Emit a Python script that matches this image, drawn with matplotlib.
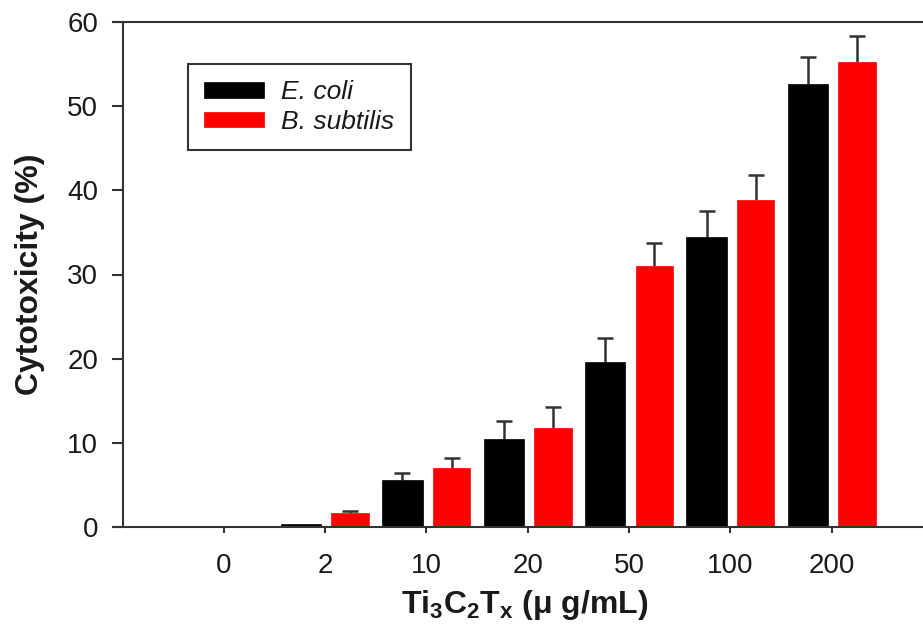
import matplotlib
matplotlib.use("Agg")
import matplotlib.pyplot as plt
import numpy as np

# concentrations (ug/mL) and cytotoxicity (%)
conc = ['0', '2', '10', '20', '50', '100', '200']
ecoli = [0.0, 0.3, 5.6, 10.5, 19.6, 34.4, 52.6]
ecoli_err = [0.0, 0.0, 0.85, 2.1, 2.9, 3.1, 3.3]
bsub = [0.0, 1.7, 7.0, 11.8, 31.0, 38.8, 55.2]
bsub_err = [0.0, 0.2, 1.2, 2.5, 2.8, 3.0, 3.1]

plt.rcParams['font.family'] = ['Liberation Sans', 'DejaVu Sans']
plt.rcParams['mathtext.fontset'] = 'custom'
plt.rcParams['mathtext.rm'] = 'Liberation Sans:bold'
plt.rcParams['mathtext.it'] = 'Liberation Sans:bold'
plt.rcParams['mathtext.bf'] = 'Liberation Sans:bold'

axcol = '#333333'
txtcol = '#1a1a1a'

fig = plt.figure(figsize=(9.23, 6.26), dpi=100)
ax = fig.add_axes([113 / 923, 1 - 527 / 626, 1 - 113 / 923, 505 / 626])

x = np.arange(len(conc))
off1, off2 = -0.235, 0.25
ax.bar(x + off1, ecoli, width=0.40, color='black', edgecolor='black', linewidth=0.5,
       label='E. coli', zorder=2)
ax.bar(x + off2, bsub, width=0.37, color='#ff0000', edgecolor='#ff0000', linewidth=0.5,
       label='B. subtilis', zorder=2)

# upper error bars only (stem + top cap), skip the empty ones
for xs, vals, errs in [(x + off1, ecoli, ecoli_err), (x + off2, bsub, bsub_err)]:
    vals = np.array(vals)
    errs = np.array(errs)
    m = errs > 0
    ax.vlines(xs[m], vals[m], vals[m] + errs[m], color=axcol, linewidth=1.8, zorder=1)
    ax.plot(xs[m], vals[m] + errs[m], linestyle='none', marker='_', markersize=12,
            markeredgewidth=1.8, color=axcol, zorder=1)

ax.set_xlim(-1.09, 6.90)
ax.set_ylim(0, 60)
ax.set_xticks(x)
ax.set_xticklabels(conc)
ax.set_yticks(np.arange(0, 61, 10))

for s in ['left', 'bottom', 'top']:
    ax.spines[s].set_color(axcol)
    ax.spines[s].set_linewidth(1.5)
ax.spines['right'].set_visible(False)
ax.spines['left'].set_position(('data', -0.99))

ax.tick_params(axis='y', direction='out', length=8, width=1.5, color=axcol,
               labelsize=20, pad=10, labelcolor=txtcol)
ax.tick_params(axis='x', direction='out', length=4.5, width=1.5, color=axcol,
               labelsize=20, pad=14, labelcolor=txtcol)

ax.set_ylabel('Cytotoxicity (%)', fontsize=23, fontweight='bold', color=txtcol)
ax.yaxis.set_label_coords(-0.084, 0.5)
ax.set_xlabel(r'Ti$_{3}$C$_{2}$T$_{\mathrm{x}}$ ($\mu$ g/mL)', fontsize=23,
              fontweight='bold', color=txtcol)
ax.xaxis.set_label_coords(0.508, -0.12)

leg = ax.legend(loc='upper left', bbox_to_anchor=(188 / 923, 1 - 64 / 626),
                bbox_transform=fig.transFigure, borderaxespad=0,
                prop={'style': 'italic', 'size': 19}, fancybox=False,
                framealpha=1, edgecolor=axcol, handlelength=2.25,
                handleheight=0.53, borderpad=0.62, labelspacing=0.2,
                handletextpad=0.66)
leg.get_frame().set_linewidth(1.5)
for t in leg.get_texts():
    t.set_color(txtcol)

plt.savefig('out.png', dpi=100)
